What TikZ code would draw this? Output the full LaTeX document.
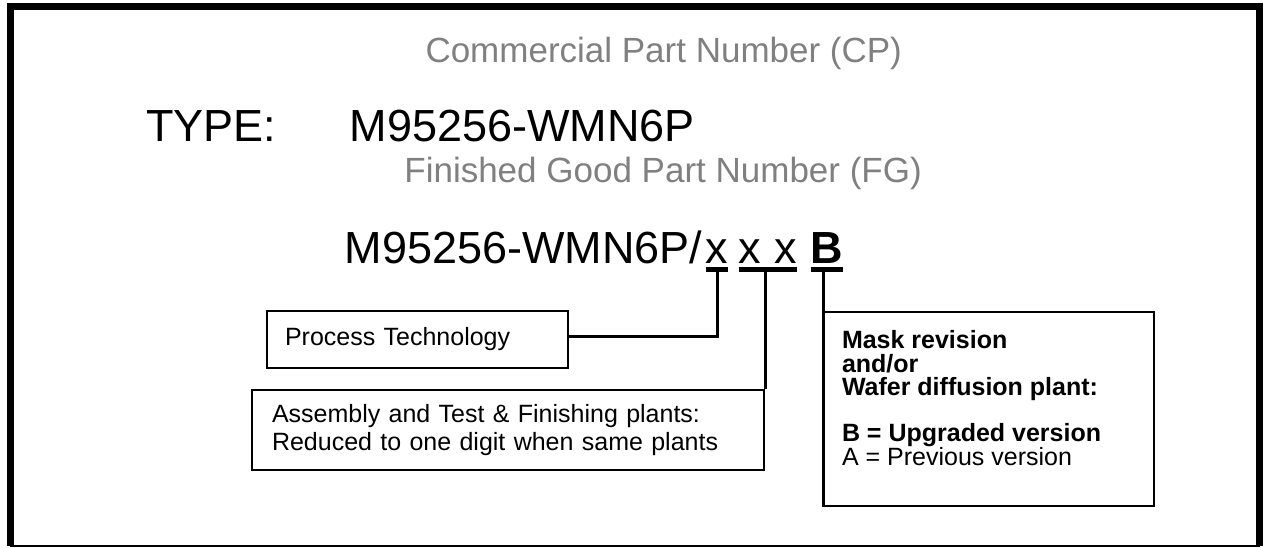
\documentclass[tikz,border=0pt]{standalone}
\usepackage{fontspec}
\setmainfont{Liberation Sans}
\usepackage{tikz}
\usetikzlibrary{positioning}

\definecolor{captiongray}{RGB}{128,128,128}

\begin{document}
\begin{tikzpicture}[x=1pt, y=-1pt,
  every node/.style={inner sep=0pt},
  caption/.style={font=\fontsize{35}{40}\selectfont, text=captiongray, anchor=base west},
  partno/.style={font=\fontsize{45}{52}\selectfont, anchor=base west},
  code/.style={font=\fontsize{45}{52}\selectfont, anchor=base},
  infobox/.style={draw, line width=2pt, font=\fontsize{25}{28}\selectfont, align=left, anchor=north west},
  uline/.style={line width=4.5pt},
  link/.style={line width=3pt}]
  \useasboundingbox (0,0) rectangle (1264,548);
  % outer frame
  \draw[line width=7pt] (10,545.5) -- (10,6.5) -- (1259.5,6.5) -- (1259.5,545.5);
  \draw[line width=2pt] (10,545.5) -- (1259.5,545.5);

  \node[caption] (cp) at (425.3,63) {Commercial Part Number (CP)};
  \node[partno] (type) at (146,142) {TYPE:};
  \node[partno] (cpno) at (349.7,142) {M95256-WMN6P};
  \node[caption] (fg) at (404.2,183) {Finished Good Part Number (FG)};

  \node[code, anchor=base west] (fgno) at (344.7,263) {M95256-WMN6P/};
  \node[code] (x1) at (717,263) {x};
  \node[code] (x2) at (750,263) {x};
  \node[code] (x3) at (786,263) {x};
  \node[code, font=\fontsize{45}{52}\selectfont\bfseries] (rev) at (827,263) {B};

  \draw[uline] ([yshift=-6.5pt]x1.base west) -- ([yshift=-6.5pt]x1.base east);
  \draw[uline] ([yshift=-6.5pt]x2.base west) -- ([yshift=-6.5pt]x3.base east);
  \draw[uline] ([yshift=-6.5pt]rev.base west) -- ([yshift=-6.5pt]rev.base east);

  \node[infobox, text width=265pt, inner xsep=18pt, minimum height=57pt] (proc) at (266,310) {Process Technology};
  \node[infobox, text width=472pt, inner xsep=20pt, minimum height=80pt] (asm) at (251,389)
    {Assembly and Test \& Finishing plants:\\Reduced to one digit when same plants};
  \node[infobox, inner xsep=18pt, inner ysep=0pt] (mask) at (823,311)
    {\parbox[c][194pt][t]{294pt}{\lineskiplimit=-100pt\baselineskip=23.5pt
     \vspace*{18.8pt}\bfseries Mask revision\\and/or\\Wafer diffusion plant:\\[22.5pt]
     B = Upgraded version\\\mdseries A = Previous version}};

  \draw[link] ([yshift=-6.5pt]x1.base) |- ([yshift=3.5pt]proc.east);
  \draw[link] (asm.north east) -- ([yshift=-6.5pt]asm.north east |- x2.base);
  \draw[link] (mask.south west) -- ([yshift=-6.5pt]mask.north west |- rev.base);
\end{tikzpicture}
\end{document}
